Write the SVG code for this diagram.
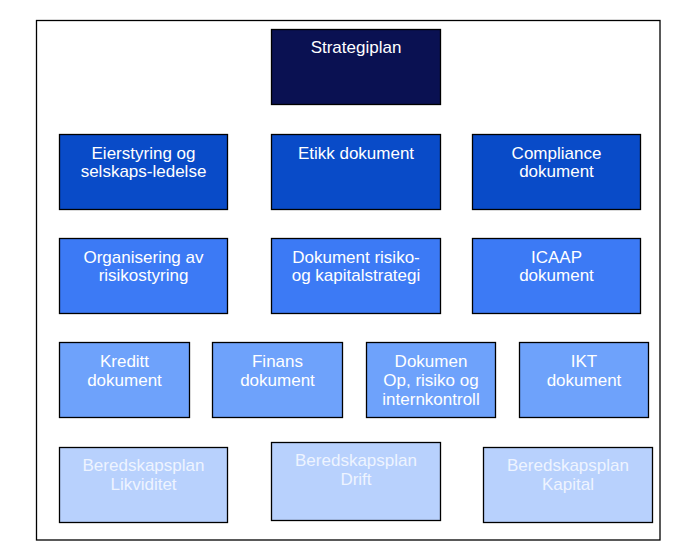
<svg xmlns="http://www.w3.org/2000/svg" width="676" height="556" viewBox="0 0 676 556">
<style>
rect.n{stroke:#000;stroke-width:1.3}
text{font-family:"Liberation Sans",Arial,sans-serif;font-size:17px;text-anchor:middle;fill:#fff}
.l0{fill:#0a1152}.l1{fill:#094bc8}.l2{fill:#3c7af5}.l3{fill:#6ea2fb}.l4{fill:#b8d1fd}
text.t4{fill:#eef4ff}
</style>
<rect x="0" y="0" width="676" height="556" fill="#fff"/>
<rect id="frame" x="36.5" y="20.5" width="623.5" height="519.5" fill="none" stroke="#000" stroke-width="1.3"/>
<g id="connectors"></g>
<g id="strategiplan"><rect class="n l0" x="271.5" y="29.5" width="169" height="75"/><text x="356" y="52.5">Strategiplan</text></g>
<g id="eierstyring"><rect class="n l1" x="59.5" y="134.5" width="168" height="75"/><text x="143.5" y="158.5">Eierstyring og</text><text x="143.5" y="177">selskaps-ledelse</text></g>
<g id="etikk"><rect class="n l1" x="271.5" y="134.5" width="169" height="75"/><text x="356" y="158.5">Etikk dokument</text></g>
<g id="compliance"><rect class="n l1" x="472.5" y="134.5" width="168" height="75"/><text x="556.5" y="158.5">Compliance</text><text x="556.5" y="177">dokument</text></g>
<g id="organisering"><rect class="n l2" x="59.5" y="238.5" width="168" height="75"/><text x="143.5" y="262.5">Organisering av</text><text x="143.5" y="281">risikostyring</text></g>
<g id="risiko"><rect class="n l2" x="271.5" y="238.5" width="169" height="75"/><text x="356" y="262.5">Dokument risiko-</text><text x="356" y="281">og kapitalstrategi</text></g>
<g id="icaap"><rect class="n l2" x="472.5" y="238.5" width="168" height="75"/><text x="556.5" y="262.5">ICAAP</text><text x="556.5" y="281">dokument</text></g>
<g id="kreditt"><rect class="n l3" x="59.5" y="342.5" width="130" height="75"/><text x="124.5" y="366.5">Kreditt</text><text x="124.5" y="385.5">dokument</text></g>
<g id="finans"><rect class="n l3" x="212.5" y="342.5" width="130" height="75"/><text x="277.5" y="366.5">Finans</text><text x="277.5" y="385.5">dokument</text></g>
<g id="oprisiko"><rect class="n l3" x="366.5" y="342.5" width="129" height="75"/><text x="431" y="366.5">Dokumen</text><text x="431" y="385.5">Op, risiko og</text><text x="431" y="405">internkontroll</text></g>
<g id="ikt"><rect class="n l3" x="519.5" y="342.5" width="129" height="75"/><text x="584" y="366.5">IKT</text><text x="584" y="385.5">dokument</text></g>
<g id="likviditet"><rect class="n l4" x="59.5" y="447.5" width="168" height="75"/><text class="t4" x="143.5" y="471">Beredskapsplan</text><text class="t4" x="143.5" y="490">Likviditet</text></g>
<g id="drift"><rect class="n l4" x="271.5" y="442.5" width="169" height="78"/><text class="t4" x="356" y="466">Beredskapsplan</text><text class="t4" x="356" y="485">Drift</text></g>
<g id="kapital"><rect class="n l4" x="483.5" y="447.5" width="169" height="75"/><text class="t4" x="568" y="471">Beredskapsplan</text><text class="t4" x="568" y="490">Kapital</text></g>
</svg>
